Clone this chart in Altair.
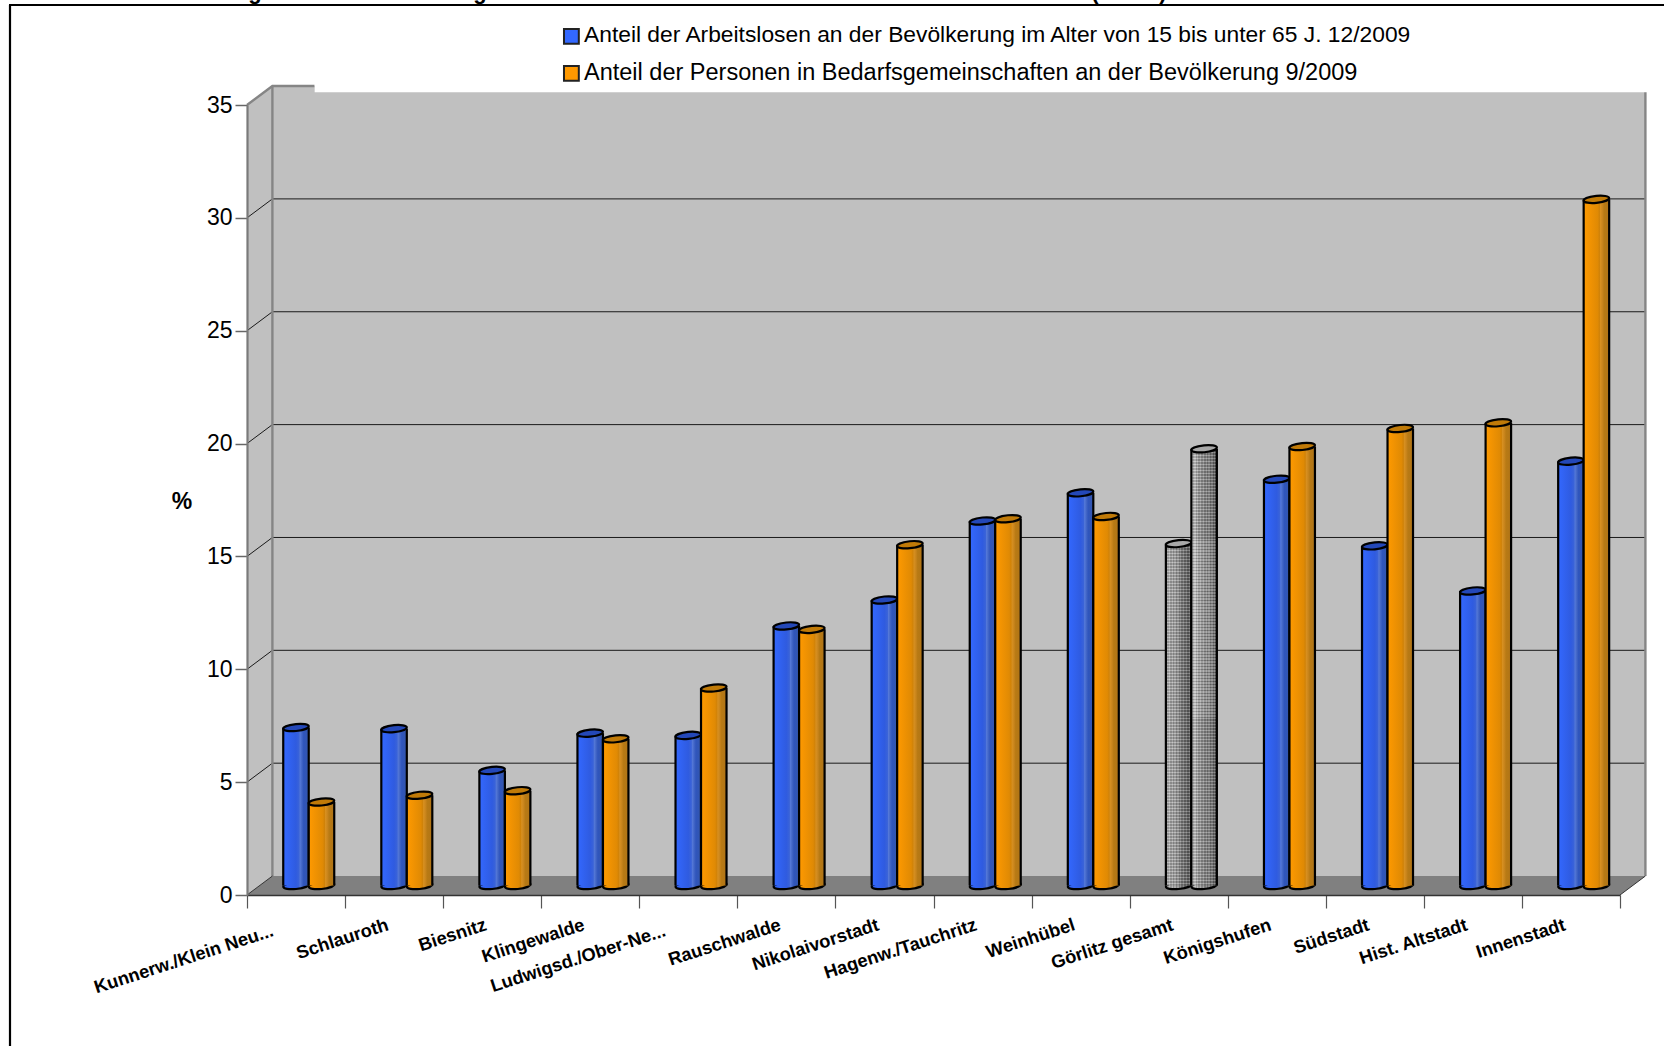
import altair as alt
import pandas as pd

# Districts of Görlitz, lowest to highest share of people in benefit households
categories = ["Kunnerw./Klein Neu...", "Schlauroth", "Biesnitz", "Klingewalde", "Ludwigsd./Ober-Ne...",
              "Rauschwalde", "Nikolaivorstadt", "Hagenw./Tauchritz", "Weinhübel", "Görlitz gesamt",
              "Königshufen", "Südstadt", "Hist. Altstadt", "Innenstadt"]
unemployed = [7.0, 6.95, 5.1, 6.75, 6.65, 11.5, 12.65, 16.15, 17.4, 15.15, 18.0, 15.05, 13.05, 18.8]
benefit = [3.7, 4.0, 4.2, 6.5, 8.75, 11.35, 15.1, 16.25, 16.35, 19.35, 19.45, 20.25, 20.5, 30.4]
series_names = ["Anteil der Arbeitslosen an der Bevölkerung im Alter von 15 bis unter 65 J. 12/2009",
                "Anteil der Personen in Bedarfsgemeinschaften an der Bevölkerung 9/2009"]
y_ticks = [0, 5, 10, 15, 20, 25, 30, 35]
total_row = "Görlitz gesamt"
long_labels = ["Kunnerw./Klein Neu...", "Ludwigsd./Ober-Ne..."]

FONT = "Liberation Sans"
W, H = 1373, 790
DX, DY = 0.259, 0.84      # depth of the pseudo-3D box, in band and value units
BAR = 0.26                # cylinder width in band units
CYL_PX = 25.5
ELLIPSE = "M-1,0.1 A1,0.27 -6 1 1 1,-0.1 A1,0.27 -6 1 1 -1,0.1 Z"

X = alt.Scale(domain=[0, 14], nice=False, zero=False)
Y = alt.Scale(domain=[0, 35], nice=False, zero=False)

AXIS_Y = alt.Axis(values=y_ticks, title=None, grid=False, tickSize=12, tickColor="#666666", tickWidth=1.5,
                  domainColor="#7a7a7a", domainWidth=2.2, labelFont=FONT, labelFontSize=23, labelColor="#000000",
                  labelPadding=3, format="d", zindex=1)
AXIS_X = alt.Axis(values=list(range(15)), title=None, grid=False, labels=False, tickSize=13, tickColor="#555555",
                  tickWidth=1.2, domainColor="#333333", domainWidth=1.5, zindex=1)


def xq(field):
    return alt.X(field, type="quantitative", scale=X, axis=AXIS_X)


def yq(field):
    return alt.Y(field, type="quantitative", scale=Y, axis=AXIS_Y)


def gradient(stops):
    return alt.LinearGradient(gradient="linear", x1=0, x2=1, y1=0, y2=0,
                              stops=[alt.GradientStop(color=c, offset=o) for o, c in stops])


BLUE = gradient([(0, "#3368ff"), (0.5, "#2f5be0"), (0.62, "#3a63d8"), (0.66, "#5478d8"), (0.74, "#3f63c4"),
                 (0.8, "#2f55bc"), (1, "#3456ac")])
ORANGE = gradient([(0, "#ff9a00"), (0.55, "#e08a04"), (0.62, "#d08208"), (0.66, "#d89020"), (0.74, "#c8841c"),
                   (0.8, "#b87a14"), (1, "#b07418")])
# fine hard-edged stops give the grey cylinders their dithered texture
GREY_STOPS = []
for k in range(9):
    shade = 205 - 11 * k
    GREY_STOPS += [(k / 9, f"rgb({shade},{shade},{shade})"), (k / 9 + 0.055, f"rgb({shade},{shade},{shade})"),
                   (k / 9 + 0.056, f"rgb({shade-38},{shade-38},{shade-38})"),
                   ((k + 1) / 9, f"rgb({shade-38},{shade-38},{shade-38})")]
GREY = gradient(GREY_STOPS)


def dither(height_units):
    """Translucent horizontal stripes laid over a grey cylinder, about 3 px apart."""
    n = max(1, round(height_units * H / 35 / 3))
    stops = []
    for k in range(n):
        stops += [alt.GradientStop(color="rgba(255,255,255,0.2)", offset=k / n),
                  alt.GradientStop(color="rgba(255,255,255,0.2)", offset=(k + 0.5) / n),
                  alt.GradientStop(color="rgba(0,0,0,0.12)", offset=(k + 0.5) / n),
                  alt.GradientStop(color="rgba(0,0,0,0.12)", offset=(k + 1) / n)]
    return alt.LinearGradient(gradient="linear", x1=0, x2=0, y1=0, y2=1, stops=stops)


def cylinder_rows(values, side):
    rows = []
    for i, (name, v) in enumerate(zip(categories, values)):
        centre = i + 0.5 + DX / 2
        left = centre - BAR if side == 0 else centre
        rows.append(dict(name=name, value=v, xl=left, xr=left + BAR, xm=left + BAR / 2,
                         base=DY / 2, top=v + DY / 2))
    return pd.DataFrame(rows)


def cylinders(df, body, cap):
    """Bottom ellipse, shaded body, side outlines and top ellipse of a set of cylinders."""
    size = CYL_PX ** 2
    bottom = alt.Chart(df).mark_point(shape=ELLIPSE, size=size, filled=True, fill=body, stroke="#000000",
                                      strokeWidth=2.2, opacity=1).encode(x=xq("xm"), y=yq("base"))
    shaft = alt.Chart(df).mark_rect(fill=body).encode(x=xq("xl"), x2="xr", y=yq("base"), y2="top")
    left = alt.Chart(df).mark_rule(color="#000000", strokeWidth=2.2).encode(x=xq("xl"), y=yq("base"), y2="top")
    right = alt.Chart(df).mark_rule(color="#000000", strokeWidth=2.2).encode(x=xq("xr"), y=yq("base"), y2="top")
    top = alt.Chart(df).mark_point(shape=ELLIPSE, size=size, filled=True, fill=cap, stroke="#000000",
                                   strokeWidth=2.2, opacity=1).encode(x=xq("xm"), y=yq("top"))
    return [bottom, shaft, left, right, top]


# Box: back wall, left wall, floor
back_wall = alt.Chart(pd.DataFrame({"x": [DX], "x2": [14 + DX], "y": [DY], "y2": [35 + DY]})).mark_rect(
    fill="#c0c0c0").encode(x=xq("x"), x2="x2", y=yq("y"), y2="y2")
left_wall = alt.Chart(pd.DataFrame({"x": [0, DX], "y": [0, DY], "y2": [35, 35 + DY]})).mark_area(
    color="#c0c0c0", opacity=1).encode(x=xq("x"), y=yq("y"), y2="y2")
floor = alt.Chart(pd.DataFrame({"x": [0, DX, 14, 14 + DX], "y": [0, 0, 0, DY], "y2": [0, DY, DY, DY]})).mark_area(
    color="#808080", opacity=1).encode(x=xq("x"), y=yq("y"), y2="y2")

# Horizontal grid lines running across the left wall and the back wall
grid_rows = []
for t in y_ticks[1:-1]:
    grid_rows += [dict(t=t, x=0, y=t), dict(t=t, x=DX, y=t + DY), dict(t=t, x=14 + DX, y=t + DY)]
grid = alt.Chart(pd.DataFrame(grid_rows)).mark_line(color="#1a1a1a", strokeWidth=1).encode(
    x=xq("x"), y=yq("y"), detail="t:N", order="x:Q")

edge_rows = [dict(k="top", x=0, y=35), dict(k="top", x=DX, y=35 + DY), dict(k="top", x=0.69, y=35 + DY),
             dict(k="back", x=DX, y=DY), dict(k="back", x=DX, y=35 + DY),
             dict(k="right", x=14 + DX, y=DY), dict(k="right", x=14 + DX, y=35 + DY)]
edges = alt.Chart(pd.DataFrame(edge_rows)).mark_line(color="#858585", strokeWidth=2.4).encode(
    x=xq("x"), y=yq("y"), detail="k:N", order="y:Q")
slant_rows = [dict(k="l", x=0, y=0), dict(k="l", x=DX, y=DY), dict(k="r", x=14, y=0), dict(k="r", x=14 + DX, y=DY)]
slants = alt.Chart(pd.DataFrame(slant_rows)).mark_line(color="#333333", strokeWidth=1).encode(
    x=xq("x"), y=yq("y"), detail="k:N", order="x:Q")

# White strip behind the legend that trims the top of the back wall
legend_strip = alt.Chart(pd.DataFrame({"x": [0.69], "x2": [14.7], "y": [35.56], "y2": [36.2]})).mark_rect(
    fill="#ffffff").encode(x=xq("x"), x2="x2", y=yq("y"), y2="y2")

# Cylinders: regular districts in colour, the town total in grey
blue_all = cylinder_rows(unemployed, 0)
orange_all = cylinder_rows(benefit, 1)
blue_df = blue_all[blue_all.name != total_row]
orange_df = orange_all[orange_all.name != total_row]
grey_l = blue_all[blue_all.name == total_row]
grey_r = orange_all[orange_all.name == total_row]

marks = []
marks += cylinders(blue_df, BLUE, "#2448b8")
marks += cylinders(grey_l, GREY, "#a8a8a8")
marks.insert(len(marks) - 3, alt.Chart(grey_l).mark_rect(fill=dither(grey_l.value.iloc[0])).encode(
    x=xq("xl"), x2="xr", y=yq("base"), y2="top"))
marks += cylinders(orange_df, ORANGE, "#c07a08")
marks += cylinders(grey_r, GREY, "#a8a8a8")
marks.insert(len(marks) - 3, alt.Chart(grey_r).mark_rect(fill=dither(grey_r.value.iloc[0])).encode(
    x=xq("xl"), x2="xr", y=yq("base"), y2="top"))

# Rotated district labels under the axis
label_df = pd.DataFrame({"name": categories, "x": [i + 0.5 for i in range(len(categories))]})
label_df["long"] = label_df.name.isin(long_labels)
labels = alt.Chart(label_df[~label_df.long]).mark_text(
    font=FONT, fontWeight="bold", fontSize=18.3, align="right", baseline="middle", angle=342, xOffset=-6, color="#000000"
).encode(x=xq("x"), y=alt.value(H + 30), text="name:N")
labels_long = alt.Chart(label_df[label_df.long]).mark_text(
    font=FONT, fontWeight="bold", fontSize=18.3, align="right", baseline="middle", angle=342, xOffset=-23, color="#000000"
).encode(x=xq("x"), y=alt.value(H + 36), text="name:N")

pct = alt.Chart(pd.DataFrame({"t": ["%"]})).mark_text(
    font=FONT, fontWeight="bold", fontSize=23, align="center", baseline="middle", color="#000000"
).encode(x=alt.value(-65), y=alt.value(397), text="t:N")

# Page frame
frame_top = alt.Chart(pd.DataFrame({"a": [0]})).mark_rule(color="#000000", strokeWidth=2).encode(
    x=alt.value(-238), x2=alt.value(1420), y=alt.value(-100))
frame_left = alt.Chart(pd.DataFrame({"a": [0]})).mark_rule(color="#000000", strokeWidth=2.2).encode(
    x=alt.value(-237), y=alt.value(-100), y2=alt.value(945))

# Heading pieces that reach below the top edge of the page
title_bits = alt.Chart(pd.DataFrame({"t": ["g", "g", "(", ")"], "px": [8, 233, 848, 916]})).mark_text(
    font=FONT, fontWeight="bold", fontSize=22, align="center", baseline="alphabetic", color="#000000"
).encode(x=alt.X("px:Q", scale=None), y=alt.value(-106), text="t:N")

# Legend swatches come from an invisible layer; the two captions are set separately
legend_df = pd.DataFrame({"s": series_names, "x": [0, 0], "y": [0, 0]})
legend_layer = alt.Chart(legend_df).mark_point(size=0, filled=True).encode(
    x=xq("x"), y=yq("y"),
    fill=alt.Fill("s:N", scale=alt.Scale(domain=series_names, range=["#3368ff", "#ff9900"]),
                  legend=alt.Legend(title=None, orient="none", legendX=313, legendY=-80, symbolType="square",
                                    symbolSize=220, symbolStrokeColor="#222222", symbolStrokeWidth=2,
                                    symbolOpacity=1, labelExpr="''", labelFontSize=22.8,
                                    rowPadding=12, padding=0)))
caption_1 = alt.Chart(pd.DataFrame({"t": series_names[:1]})).mark_text(
    font=FONT, fontSize=22.8, align="left", baseline="middle", color="#000000"
).encode(x=alt.value(337), y=alt.value(-70), text="t:N")
caption_2 = alt.Chart(pd.DataFrame({"t": series_names[1:]})).mark_text(
    font=FONT, fontSize=23.5, align="left", baseline="middle", color="#000000"
).encode(x=alt.value(337), y=alt.value(-32.5), text="t:N")

chart = alt.layer(
    back_wall, left_wall, floor, grid, edges, slants, legend_strip, *marks,
    labels, labels_long, pct, frame_top, frame_left, title_bits, legend_layer, caption_1, caption_2
).properties(
    width=W, height=H, background="#ffffff",
    padding={"left": 247, "top": 105, "right": 44, "bottom": 151},
    autosize=alt.AutoSizeParams(type="none")
).configure_view(stroke=None)

chart.save("out.html", embed_options={"renderer": "svg", "actions": False})
